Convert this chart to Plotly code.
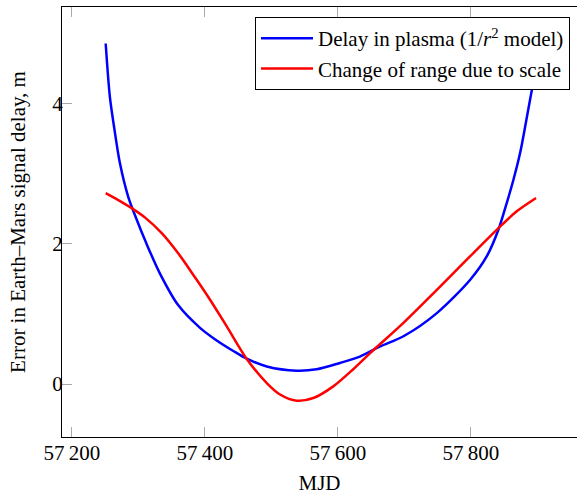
import plotly.graph_objects as go

# Delay in plasma (1/r^2 model)
blue_mjd = [57250.7, 57257, 57264, 57272, 57284.5, 57297, 57312, 57332,
            57360, 57392.6, 57417.7, 57442.7, 57462.9, 57493, 57538, 57568, 57603,
            57633, 57663.5, 57698.6, 57748.8, 57799, 57824, 57841.5, 57854, 57864,
            57874, 57881.7, 57889, 57892.7, 57900]
blue_val = [4.85, 4.09, 3.62, 3.15, 2.67, 2.35, 2.00, 1.58,
            1.12, 0.80, 0.62, 0.47, 0.36, 0.25, 0.19, 0.21, 0.30,
            0.39, 0.535, 0.68, 1.01, 1.485, 1.82, 2.20, 2.58, 2.91,
            3.29, 3.67, 4.05, 4.24, 4.70]

# Change of range due to scale
red_mjd = [57250.7, 57269.7, 57289.8, 57310, 57335, 57360, 57385, 57407.7, 57432.8,
           57462.9, 57493, 57513, 57538, 57563, 57593, 57623, 57648.5, 57698.6,
           57748.8, 57799, 57841.5, 57869, 57898]
red_val = [2.72, 2.62, 2.505, 2.37, 2.15, 1.86, 1.52, 1.20, 0.82,
           0.356, 0.014, -0.15, -0.238, -0.20, -0.034, 0.21, 0.44, 0.87,
           1.34, 1.82, 2.22, 2.46, 2.65]

x_tickvals = [57200, 57400, 57600, 57800]
x_ticktext = ["57\u2009200", "57\u2009400", "57\u2009600", "57\u2009800"]
y_tickvals = [0, 2, 4]
y_ticktext = ["0", "2", "4"]

FONT = "Liberation Serif, Times New Roman, Times, serif"
FS = 21

fig = go.Figure()
fig.add_trace(go.Scatter(x=blue_mjd, y=blue_val, mode="lines",
                         line=dict(color="#0000ff", width=2.5, shape="spline", smoothing=0.8),
                         name="Delay in plasma (1/<i>r</i><sup>2</sup> model)"))
fig.add_trace(go.Scatter(x=red_mjd, y=red_val, mode="lines",
                         line=dict(color="#ff0000", width=2.5, shape="spline", smoothing=0.8),
                         name="Change of range due to scale"))

fig.update_layout(
    width=577, height=495,
    margin=dict(l=62, r=0, t=7, b=58, autoexpand=False),
    paper_bgcolor="white", plot_bgcolor="white",
    font=dict(family=FONT, size=FS, color="black"),
    showlegend=True,
    legend=dict(x=0.9864, y=0.9767, xanchor="right", yanchor="top",
                bordercolor="black", borderwidth=1, bgcolor="white",
                itemwidth=52,
                font=dict(family=FONT, size=FS), tracegroupgap=0),
    xaxis=dict(range=[57185, 57959.6], tickvals=x_tickvals, ticktext=x_ticktext,
               showgrid=False, zeroline=False, showline=True, linecolor="black",
               linewidth=1, mirror="ticks", ticks="inside", ticklen=10,
               tickcolor="#aaaaaa", tickwidth=1, automargin=False,
               ticklabelstandoff=-3,
               tickfont=dict(family=FONT, size=FS),
               title=dict(text="MJD", standoff=15, font=dict(family=FONT, size=FS))),
    yaxis=dict(range=[-0.755, 5.37], tickvals=y_tickvals, ticktext=y_ticktext,
               showgrid=False, zeroline=False, showline=True, linecolor="black",
               linewidth=1, ticks="inside", ticklen=10,
               tickcolor="#aaaaaa", tickwidth=1, automargin=False,
               ticklabelstandoff=-6,
               tickfont=dict(family=FONT, size=FS),
               title=dict(text="Error in Earth–Mars signal delay, m", standoff=20,
                          font=dict(family=FONT, size=FS))),
    yaxis2=dict(matches="y", overlaying="y", side="right", anchor="x",
                tickvals=y_tickvals, showticklabels=False, showgrid=False,
                zeroline=False, showline=False, ticks="inside", ticklen=10,
                tickcolor="#aaaaaa", tickwidth=1, automargin=False),
)

fig.write_html("out.html", config={"displayModeBar": False},
               post_script="document.body.style.margin='0';")
